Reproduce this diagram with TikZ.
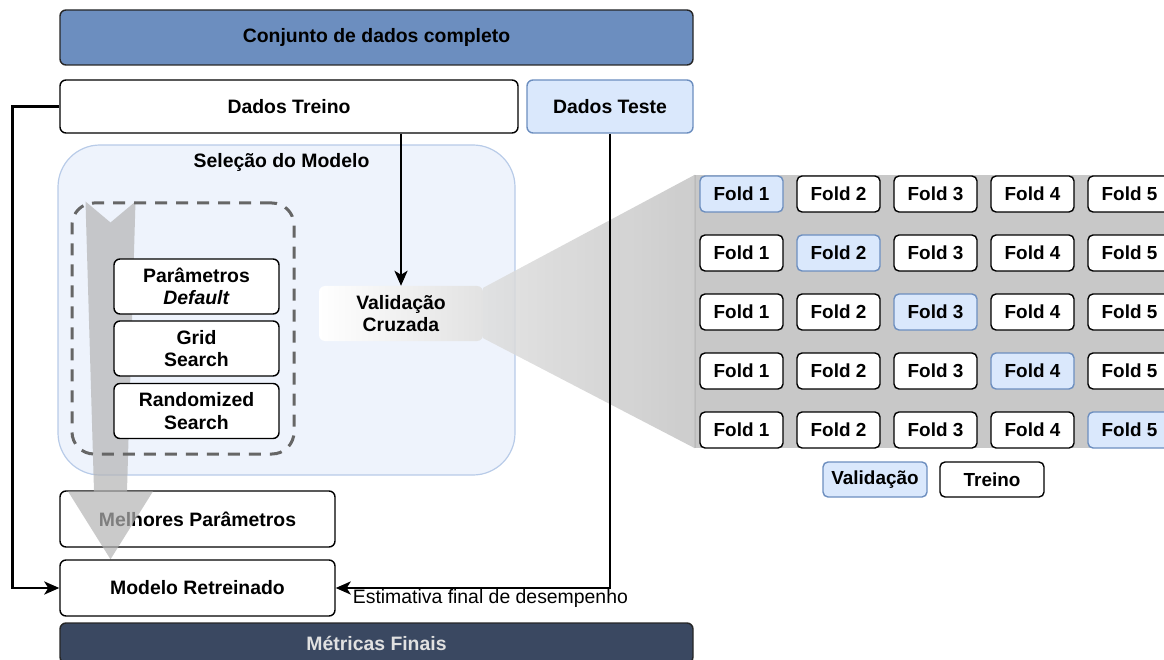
\documentclass[tikz,border=0pt]{standalone}
\usepackage{fontspec}
\setmainfont{Liberation Sans}
\usetikzlibrary{arrows.meta,calc}

\definecolor{topblue}{RGB}{108,142,191}
\definecolor{lightblue}{RGB}{218,232,252}
\definecolor{blueline}{RGB}{108,142,191}
\definecolor{selfill}{RGB}{238,243,252}
\definecolor{selline}{RGB}{184,203,232}
\definecolor{slate}{RGB}{58,72,97}
\definecolor{panelgray}{RGB}{200,200,200}
\definecolor{paneledge}{RGB}{186,186,186}
\definecolor{dashgray}{RGB}{102,102,102}
\definecolor{bigarrow}{RGB}{180,180,180}
\definecolor{funnelL}{RGB}{222,222,222}
\definecolor{funnelR}{RGB}{196,196,196}
\definecolor{vcgray}{RGB}{226,226,226}

\pgfdeclarelayer{back}
\pgfdeclarelayer{mid}
\pgfsetlayers{back,mid,main}

\begin{document}
\begin{tikzpicture}[x=1pt,y=-1pt,
  txt/.style={font=\bfseries\fontsize{19.4}{22.3}\selectfont, align=center},
  box/.style={txt, draw=black, line width=1.4pt, rounded corners=6pt, fill=white, inner sep=2pt},
  foldtxt/.style={font=\bfseries\fontsize{18.9}{22}\selectfont, align=center},
  trfold/.style={foldtxt, draw=black, line width=1.4pt, rounded corners=5pt, fill=white,
    minimum width=83pt, minimum height=36pt, inner sep=0pt},
  valfold/.style={trfold, draw=blueline, fill=lightblue},
  conn/.style={line width=2.6pt, -{Stealth[length=15pt,width=13pt,inset=4pt]}},
]
\useasboundingbox (0,0) rectangle (1164,660);
\clip (0,0) rectangle (1164,660);

% --- data split ---
\node[box, fill=topblue, draw=black!85, minimum width=633pt, minimum height=55pt]
  (full) at (376.5,37.5) {Conjunto de dados completo};
\node[box, minimum width=458pt, minimum height=53pt] (tr) at (289,106.5) {Dados Treino};
\node[box, fill=lightblue, draw=blueline, minimum width=166pt, minimum height=53pt]
  (te) at (610,106.5) {Dados Teste};

% --- model selection container ---
\begin{pgfonlayer}{back}
  \node[draw=selline, fill=selfill, line width=1.2pt, rounded corners=42pt,
    minimum width=457pt, minimum height=330pt] (sel) at (286.5,310) {};
\end{pgfonlayer}
\node[txt] (seltitle) at ($(sel.north)+(-5,18)$) {Seleção do Modelo};

\node[draw=dashgray, line width=3pt, dash pattern=on 12pt off 9pt, rounded corners=22pt,
  minimum width=222pt, minimum height=251pt] (dg) at (183,328.5) {};

\node[box, minimum width=165pt, minimum height=55pt] (p1) at (196.5,286.5) {Parâmetros\\\textit{Default}};
\node[box, minimum width=165pt, minimum height=55pt] (p2) at (196.5,348.5) {Grid\\Search};
\node[box, minimum width=165pt, minimum height=55pt] (p3) at (196.5,411) {Randomized\\Search};

\node[txt, left color=white, right color=vcgray, rounded corners=6pt,
  minimum width=164pt, minimum height=55pt, inner sep=0pt] (vc) at (401,313.5) {Validação\\Cruzada};

% --- final stages ---
\begin{pgfonlayer}{back}
  \node[box, minimum width=275pt, minimum height=56pt] (mp) at (197.5,519) {Melhores Parâmetros};
\end{pgfonlayer}
\node[box, minimum width=275pt, minimum height=56pt] (mr) at (197.5,588) {Modelo Retreinado};
\node[box, fill=slate, draw=black!85, text={rgb,255:red,225;green,225;blue,225},
  minimum width=633pt, minimum height=40pt] (mf) at (376.5,643) {Métricas Finais};

% --- fold panel ---
\begin{pgfonlayer}{back}
  \node[fill=panelgray, minimum width=480pt, minimum height=273pt, inner sep=0pt]
    (panel) at (935,311.5) {};
  \draw[paneledge, line width=1.5pt] (panel.north west) -- (panel.south west);
  \shade[left color=funnelL, right color=funnelR, opacity=0.85]
    ($(vc.north east)+(0,2)$) -- (panel.north west) -- (panel.south west)
    -- ($(vc.south east)+(0,-3)$) -- cycle;
\end{pgfonlayer}

\foreach \r in {1,...,5}{
  \foreach \c in {1,...,5}{
    \ifnum\r=\c \tikzset{fcur/.style={valfold}}\else\tikzset{fcur/.style={trfold}}\fi
    \node[fcur] (f\r\c) at ({741.5+97*(\c-1)},{194+59*(\r-1)}) {Fold \c};
  }
}
\node[valfold, minimum width=104pt, minimum height=35pt] (legval) at (875,479.5) {Validação};
\node[trfold, minimum width=104pt, minimum height=35pt] (legtr) at (992,479.5) {Treino};

% --- search-to-retrain flow arrow ---
\coordinate (gs) at ($(dg.north west)+(40,0)$);
\coordinate (ge) at (gs |- mr.north);
\begin{pgfonlayer}{mid}
  \fill[bigarrow, fill opacity=0.7]
    ($(gs)+(-25,0)$) -- ($(gs)+(0,21)$) -- ($(gs)+(25,0)$)
    -- ($(ge)+(16.5,-68)$) -- ($(ge)+(42.5,-68)$) -- (ge)
    -- ($(ge)+(-42.5,-68)$) -- ($(ge)+(-16.5,-68)$) -- cycle;
\end{pgfonlayer}

% --- connectors ---
\draw[conn] (tr.south -| vc.north) -- (vc.north);
\draw[conn] (tr.west) -- ++(-47,0) |- (mr.west);
\draw[conn] (te.south) |- (mr.east);
\node[anchor=west, inner sep=0pt, font=\fontsize{19.4}{22.3}\selectfont]
  (est) at ($(mr.east)+(17,10)$) {Estimativa final de desempenho};
\end{tikzpicture}
\end{document}
